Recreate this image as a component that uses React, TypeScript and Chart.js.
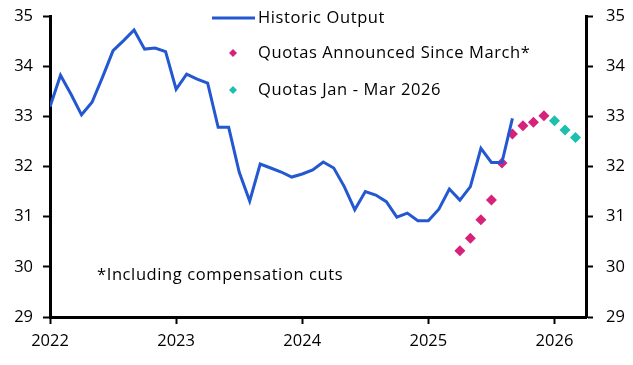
import React, { useEffect, useRef } from "react";
import { Chart, registerables } from "chart.js";

Chart.register(...registerables);

// Month index 0 = Jan 2022
const yearLabels = ["2022", "2023", "2024", "2025", "2026"];
const yTicks = [29, 30, 31, 32, 33, 34, 35];

const historicStart = 0;
const historicOutput = [
  33.19, 33.82, 33.44, 33.03, 33.28, 33.78, 34.31, 34.51, 34.72, 34.34, 34.36, 34.29,
  33.54, 33.84, 33.74, 33.66, 32.78, 32.78, 31.89, 31.31, 32.05, 31.97, 31.89, 31.79,
  31.85, 31.93, 32.09, 31.97, 31.6, 31.14, 31.5, 31.43, 31.3, 30.99, 31.07, 30.92,
  30.92, 31.15, 31.55, 31.33, 31.6, 32.36, 32.08, 32.08, 32.96,
];

const announcedStart = 39;
const quotasAnnounced = [30.32, 30.57, 30.94, 31.33, 32.07, 32.65, 32.81, 32.88, 33.01];

const janMarStart = 48;
const quotasJanMar = [32.91, 32.73, 32.58];

const seriesNames = ["Historic Output", "Quotas Announced Since March*", "Quotas Jan - Mar 2026"];
const footnote = "*Including compensation cuts";

const BLUE = "#2358d0";
const PINK = "#d6227a";
const TEAL = "#1dbfae";
const FONT = "'Open Sans', sans-serif";
const FS = 16.5;

const toXY = (arr: number[], start: number) => arr.map((v, i) => ({ x: start + i, y: v }));

const overlayPlugin = {
  id: "overlay",
  afterDraw(chart: any) {
    const ctx = chart.ctx as any;
    ctx.save();
    ctx.font = `${FS}px ${FONT}`;
    ctx.letterSpacing = "0.6px";
    ctx.fillStyle = "#000";
    ctx.textBaseline = "middle";
    ctx.textAlign = "left";
    // legend
    const lx = 212;
    const rows = [18, 53, 90];
    ctx.strokeStyle = BLUE;
    ctx.lineWidth = 3;
    ctx.beginPath();
    ctx.moveTo(lx, rows[0]);
    ctx.lineTo(lx + 43, rows[0]);
    ctx.stroke();
    const diamond = (cx: number, cy: number, r: number, c: string) => {
      ctx.fillStyle = c;
      ctx.beginPath();
      ctx.moveTo(cx, cy - r);
      ctx.lineTo(cx + r, cy);
      ctx.lineTo(cx, cy + r);
      ctx.lineTo(cx - r, cy);
      ctx.closePath();
      ctx.fill();
    };
    diamond(233, rows[1], 4, PINK);
    diamond(233, rows[2], 4, TEAL);
    ctx.fillStyle = "#000";
    seriesNames.forEach((n, i) => ctx.fillText(n, 258, rows[i]));
    ctx.fillText(footnote, 97, 275);
    ctx.letterSpacing = "0px";
    ctx.restore();
  },
};

export default function App() {
  const ref = useRef<HTMLCanvasElement>(null);
  useEffect(() => {
    if (!ref.current) return;
    const tickFont = { family: FONT, size: FS };
    const yAxis = (position: "left" | "right") => ({
      type: "linear" as const,
      position,
      min: 29,
      max: 35,
      afterBuildTicks: (s: any) => {
        s.ticks = yTicks.map((v) => ({ value: v }));
      },
      afterFit: (s: any) => {
        s.width = position === "left" ? 50 : 47;
        s.paddingTop = 0;
        s.paddingBottom = 0;
      },
      border: { display: true, color: "#000", width: 3 },
      grid: { display: true, drawOnChartArea: false, drawTicks: true, tickLength: 7, tickColor: "#000", tickWidth: 2 },
      ticks: { color: "#000", font: tickFont, padding: position === "left" ? 10 : 13 },
    });
    const chart = new Chart(ref.current, {
      type: "line",
      data: {
        datasets: [
          {
            label: seriesNames[0],
            data: toXY(historicOutput, historicStart),
            borderColor: BLUE,
            borderWidth: 3,
            pointRadius: 0,
            tension: 0,
            yAxisID: "y",
          },
          {
            label: seriesNames[1],
            data: toXY(quotasAnnounced, announcedStart),
            showLine: false,
            pointStyle: "rectRot",
            pointRadius: 5.5,
            pointBackgroundColor: PINK,
            pointBorderColor: PINK,
            pointBorderWidth: 0,
            yAxisID: "y",
          },
          {
            label: seriesNames[2],
            data: toXY(quotasJanMar, janMarStart),
            showLine: false,
            pointStyle: "rectRot",
            pointRadius: 5.5,
            pointBackgroundColor: TEAL,
            pointBorderColor: TEAL,
            pointBorderWidth: 0,
            yAxisID: "y",
          },
        ],
      },
      options: {
        animation: false,
        responsive: false,
        maintainAspectRatio: false,
        layout: { padding: { top: 16, left: 0, right: 0, bottom: 0 } },
        plugins: { legend: { display: false }, tooltip: { enabled: false } },
        scales: {
          x: {
            type: "linear",
            min: 0,
            max: 51,
            afterBuildTicks: (s: any) => {
              s.ticks = yearLabels.map((_, i) => ({ value: i * 12 }));
            },
            afterFit: (s: any) => {
              s.height = 48;
              s.paddingLeft = 0;
              s.paddingRight = 0;
            },
            border: { display: true, color: "#000", width: 3 },
            grid: { display: true, drawOnChartArea: false, drawTicks: true, tickLength: 7, tickColor: "#000", tickWidth: 2 },
            ticks: {
              color: "#000",
              font: tickFont,
              padding: 7,
              maxRotation: 0,
              autoSkip: false,
              callback: (v: any) => yearLabels[Math.round(Number(v) / 12)] ?? "",
            },
          },
          y: yAxis("left"),
          y2: yAxis("right"),
        },
      },
      plugins: [overlayPlugin],
    });
    return () => chart.destroy();
  }, []);
  return (
    <div style={{ position: "fixed", left: 0, top: 0, width: 633, height: 365, background: "#fff" }}>
      <canvas ref={ref} width={633} height={365} style={{ width: 633, height: 365 }} />
    </div>
  );
}
